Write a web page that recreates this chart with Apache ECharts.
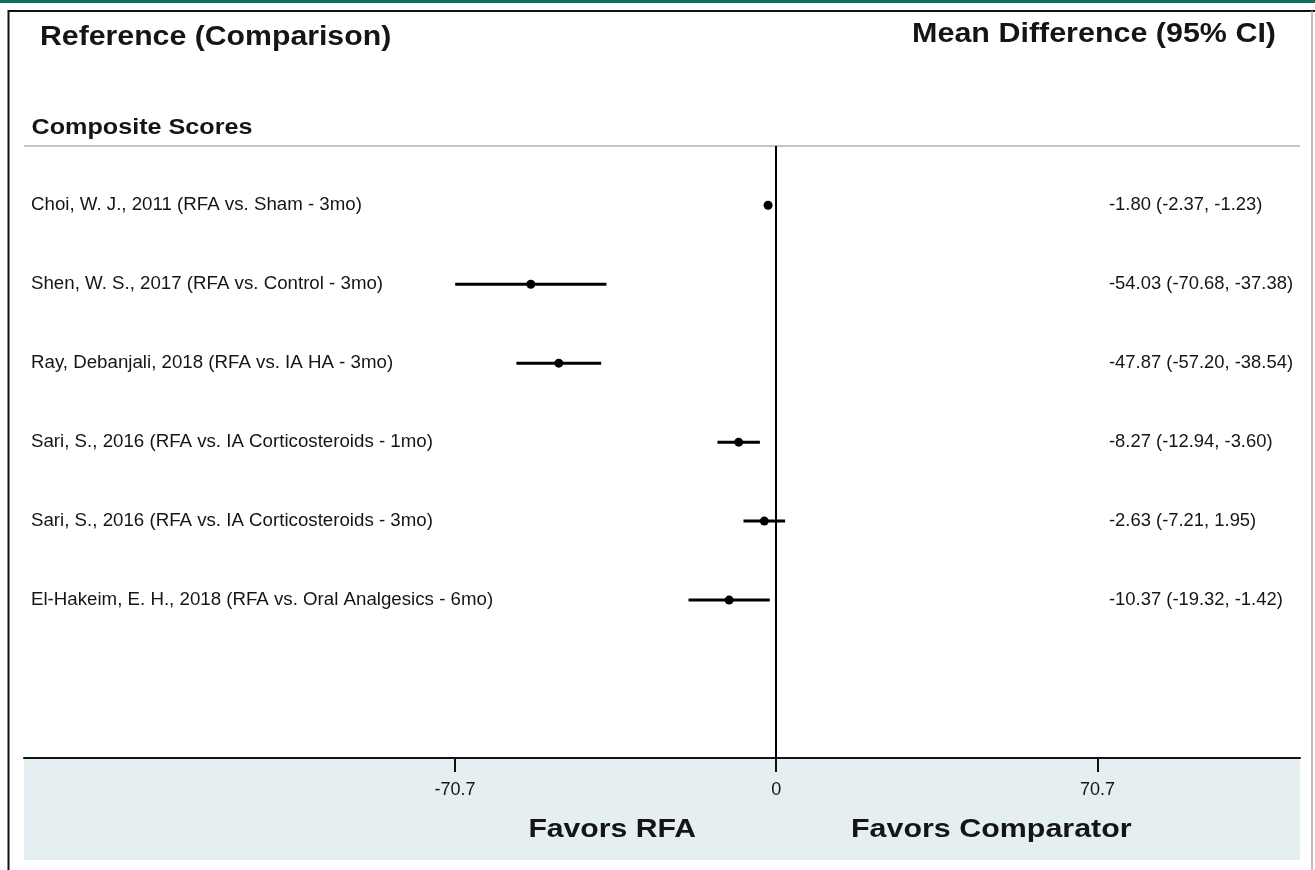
<!DOCTYPE html>
<html>
<head>
<meta charset="utf-8">
<script src="https://cdn.jsdelivr.net/npm/echarts@6/dist/echarts.min.js"></script>
<style>
  html, body { margin: 0; padding: 0; background: #fff; }
  #chart { width: 1315px; height: 870px; }
</style>
</head>
<body>
<div id="chart"></div>
<script>
const studies = [
  'Choi, W. J., 2011 (RFA vs. Sham - 3mo)',
  'Shen, W. S., 2017 (RFA vs. Control - 3mo)',
  'Ray, Debanjali, 2018 (RFA vs. IA HA - 3mo)',
  'Sari, S., 2016 (RFA vs. IA Corticosteroids - 1mo)',
  'Sari, S., 2016 (RFA vs. IA Corticosteroids - 3mo)',
  'El-Hakeim, E. H., 2018 (RFA vs. Oral Analgesics - 6mo)'
];
const meanDiff = [-1.80, -54.03, -47.87, -8.27, -2.63, -10.37];
const ciLow    = [-2.37, -70.68, -57.20, -12.94, -7.21, -19.32];
const ciHigh   = [-1.23, -37.38, -38.54, -3.60, 1.95, -1.42];
const tickValues = [-70.7, 0, 70.7];
const tickLabels = ['-70.7', '0', '70.7'];
const headerLeft = 'Reference (Comparison)';
const headerRight = 'Mean Difference (95% CI)';
const groupTitle = 'Composite Scores';
const favorsLeft = 'Favors RFA';
const favorsRight = 'Favors Comparator';

const FONT = '"Liberation Sans", Arial, Helvetica, sans-serif';
const TXT = '#151515';

const chart = echarts.init(document.getElementById('chart'), null, { renderer: 'canvas' });

const seriesData = studies.map((s, i) => [meanDiff[i], ciLow[i], ciHigh[i], i]);

function ciText(i) {
  return meanDiff[i].toFixed(2) + ' (' + ciLow[i].toFixed(2) + ', ' + ciHigh[i].toFixed(2) + ')';
}

const option = {
  backgroundColor: '#ffffff',
  animation: false,
  grid: { left: 24, right: 15, top: 146, bottom: 112, containLabel: false },
  xAxis: {
    type: 'value',
    min: -165.6,
    max: 115.3,
    splitLine: { show: false },
    axisLine: { show: true, onZero: false, lineStyle: { color: '#111', width: 2 } },
    axisTick: { show: true, customValues: tickValues, length: 14, lineStyle: { color: '#111', width: 2 } },
    axisLabel: {
      show: true, customValues: tickValues, margin: 23, fontSize: 18, fontFamily: FONT, color: TXT,
      formatter: function (v) {
        const k = tickValues.findIndex(t => Math.abs(t - v) < 1e-6);
        return k >= 0 ? tickLabels[k] : '';
      }
    }
  },
  yAxis: {
    type: 'value',
    inverse: true,
    min: -0.75,
    max: 7.0,
    show: false,
    splitLine: { show: false }
  },
  graphic: [
    { type: 'rect', z: -20, shape: { x: 0, y: 0, width: 1315, height: 3 }, style: { fill: '#126e5d' } },
    { type: 'line', z: 50, shape: { x1: 8, y1: 11, x2: 1315, y2: 11 }, style: { stroke: '#111', lineWidth: 2 } },
    { type: 'line', z: 50, shape: { x1: 8.5, y1: 10, x2: 8.5, y2: 870 }, style: { stroke: '#111', lineWidth: 2 } },
    { type: 'line', z: 50, shape: { x1: 1312, y1: 11, x2: 1312, y2: 870 }, style: { stroke: '#a8a8a8', lineWidth: 1.5 } },
    { type: 'rect', z: -20, shape: { x: 24, y: 758, width: 1276, height: 102 }, style: { fill: '#e5eef1' } },
    { type: 'line', z: 5, shape: { x1: 24, y1: 146, x2: 1300, y2: 146 }, style: { stroke: '#c6c6c6', lineWidth: 2 } },
    { type: 'text', x: 40, y: 38, scaleX: 1.12, z: 10,
      style: { text: headerLeft, fontSize: 27, fontWeight: 'bold', fontFamily: FONT, fill: TXT, align: 'left', verticalAlign: 'middle' } },
    { type: 'text', x: 1276, y: 35, scaleX: 1.128, z: 10,
      style: { text: headerRight, fontSize: 27, fontWeight: 'bold', fontFamily: FONT, fill: TXT, align: 'right', verticalAlign: 'middle' } },
    { type: 'text', x: 31.5, y: 128, scaleX: 1.144, z: 10,
      style: { text: groupTitle, fontSize: 22, fontWeight: 'bold', fontFamily: FONT, fill: TXT, align: 'left', verticalAlign: 'middle' } },
    { type: 'text', x: 696, y: 830, scaleX: 1.16, z: 10,
      style: { text: favorsLeft, fontSize: 26, fontWeight: 'bold', fontFamily: FONT, fill: TXT, align: 'right', verticalAlign: 'middle' } },
    { type: 'text', x: 851, y: 830, scaleX: 1.17, z: 10,
      style: { text: favorsRight, fontSize: 26, fontWeight: 'bold', fontFamily: FONT, fill: TXT, align: 'left', verticalAlign: 'middle' } }
  ],
  series: [
    {
      type: 'custom',
      clip: false,
      data: seriesData,
      encode: { x: [0, 1, 2], y: 3 },
      renderItem: function (params, api) {
        const i = api.value(3);
        const pm = api.coord([api.value(0), i]);
        const pl = api.coord([api.value(1), i]);
        const ph = api.coord([api.value(2), i]);
        const y = pm[1];
        return {
          type: 'group',
          children: [
            { type: 'line', shape: { x1: pl[0], y1: y, x2: ph[0], y2: y }, style: { stroke: '#000', lineWidth: 3 } },
            { type: 'circle', shape: { cx: pm[0], cy: y, r: 4.5 }, style: { fill: '#000' } },
            { type: 'text', x: 31, y: y, style: { text: studies[i], fontSize: 18.7, fontFamily: FONT, fill: TXT, align: 'left', verticalAlign: 'middle' } },
            { type: 'text', x: 1109, y: y, style: { text: ciText(i), fontSize: 18.4, fontFamily: FONT, fill: TXT, align: 'left', verticalAlign: 'middle' } }
          ]
        };
      },
      markLine: {
        silent: true,
        symbol: 'none',
        label: { show: false },
        lineStyle: { color: '#000', width: 2, type: 'solid' },
        data: [{ xAxis: 0 }]
      }
    }
  ]
};

chart.setOption(option);
</script>
</body>
</html>
